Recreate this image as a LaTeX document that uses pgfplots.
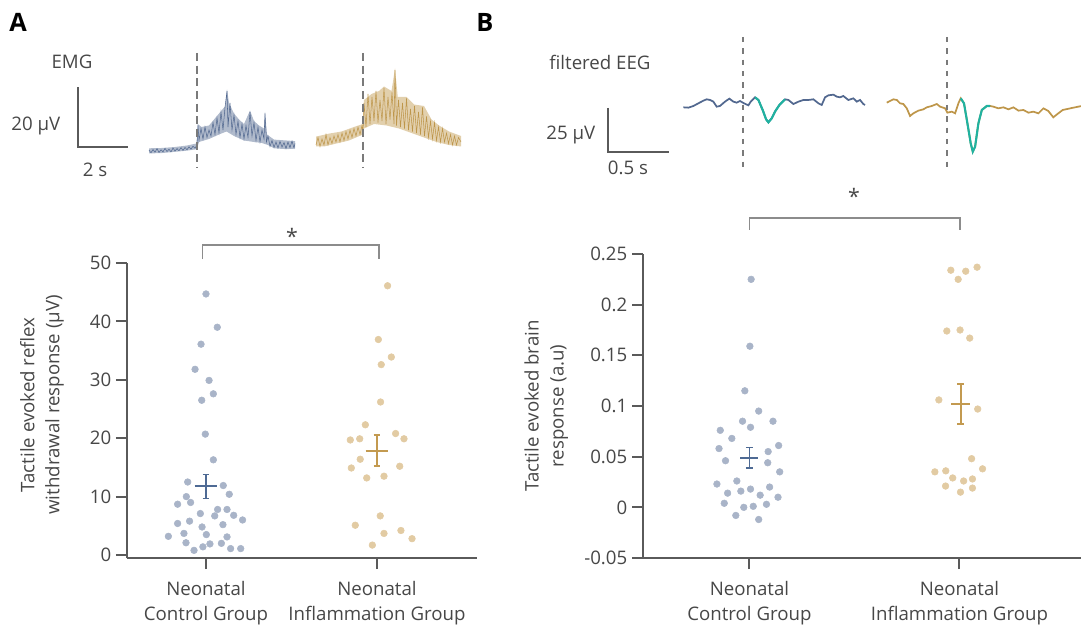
\documentclass[border=0pt]{standalone}
\usepackage{pgfplots}
\pgfplotsset{compat=1.18}
\usepackage{fontspec}
\setmainfont{Open Sans}
\definecolor{axgray}{HTML}{5A5A5A}
\definecolor{txtgray}{HTML}{474747}
\definecolor{dotA}{HTML}{A9B4C8}
\definecolor{dotB}{HTML}{E2CBA3}
\definecolor{meanA}{HTML}{4E6A94}
\definecolor{meanB}{HTML}{C39A50}
\definecolor{emgA}{HTML}{52688F}
\definecolor{emgB}{HTML}{BE964A}
\definecolor{teal}{HTML}{20B2A0}
\definecolor{brgray}{HTML}{8C8C8C}
\definecolor{dashgray}{HTML}{7A7A7A}
\newcommand{\fs}{\fontsize{14}{18.75}\selectfont}
\pgfplotsset{
  scat/.style={
    scale only axis, clip=false,
    axis x line*=bottom, axis y line*=left,
    axis line style={draw=axgray, line width=1.5pt, -},
    tick align=outside, major tick length=8.25pt,
    every tick/.style={draw=axgray, line width=1.5pt},
    tick label style={font=\fs, text=txtgray},
    label style={font=\fs, text=txtgray},
    xtick={0,1},
    xticklabels={{Neonatal\\Control Group},{Neonatal\\Inflammation Group}},
    xticklabel style={align=center, yshift=-6pt},
  },
  trace/.style={scale only axis, hide axis, clip=false},
  dotsA/.style={only marks, mark=*, mark size=2.5pt, color=dotA, mark options={draw=dotA, fill=dotA}},
  dotsB/.style={only marks, mark=*, mark size=2.5pt, color=dotB, mark options={draw=dotB, fill=dotB}},
}
\begin{document}
\begin{tikzpicture}[x=0.75pt,y=0.75pt]
\path[use as bounding box] (0,0) rectangle (1081,628);

% ---------------- Panel A traces (EMG) ----------------
\begin{axis}[trace, at={(30pt,336pt)}, anchor=south west, width=330pt, height=105pt,
  xmin=-4.36, xmax=13.24, ymin=-9.667, ymax=37]
\addplot[draw=none, fill=emgA, fill opacity=0.45] coordinates {
(0,0.9)(0.5,1.0)(1.0,1.3)(1.5,1.8)(1.9,2.5)(1.95,9)(2.1,8)(2.4,8.5)(2.7,11.5)(2.9,13.5)(3.05,15)
(3.12,20.5)(3.2,16)(3.4,12.5)(3.6,10.5)(3.8,9)(4.04,13.5)(4.2,10)(4.4,8.5)(4.6,7.5)(4.64,13)(4.72,5.5)
(5.0,3.8)(5.5,3.5)(5.84,3.3)(5.84,0.8)(5.5,0.6)(5.0,0.9)(4.76,2.0)(4.5,2.7)(4.2,3.0)(3.8,3.5)(3.4,5.0)
(3.1,6.5)(2.8,5.5)(2.4,4.0)(2.0,3.0)(1.92,0.6)(1.5,0.1)(1.0,-0.3)(0.5,-0.7)(0,-0.8)} -- cycle;
\addplot[emgA, line width=0.4pt] coordinates {
(0.00,0.3)(0.08,-0.6)(0.16,0.5)(0.24,-0.4)(0.32,0.8)(0.40,-0.5)(0.48,0.4)(0.56,-0.3)(0.64,0.9)(0.72,-0.2)
(0.80,0.6)(0.88,-0.3)(0.96,1.0)(1.04,0.0)(1.12,0.8)(1.20,0.1)(1.28,1.1)(1.36,0.2)(1.44,1.2)(1.52,0.4)
(1.60,1.4)(1.68,0.6)(1.76,1.6)(1.84,0.9)(1.92,2.0)(1.96,8.5)(2.00,3.5)(2.08,7.5)(2.16,4.0)(2.24,8.0)
(2.32,4.5)(2.40,7.0)(2.48,5.0)(2.56,9.5)(2.64,5.5)(2.72,11.0)(2.80,6.0)(2.88,13.0)(2.96,7.0)(3.04,14.5)
(3.12,20.0)(3.16,8.0)(3.24,16.0)(3.32,7.0)(3.40,12.0)(3.48,5.5)(3.56,10.0)(3.64,4.5)(3.72,9.0)(3.80,4.0)
(3.88,8.5)(3.96,4.5)(4.04,13.0)(4.12,5.0)(4.20,9.5)(4.28,3.5)(4.36,8.0)(4.44,3.0)(4.52,7.0)(4.60,4.0)
(4.64,12.5)(4.70,3.0)(4.76,5.0)(4.84,1.5)(4.92,3.5)(5.00,1.2)(5.08,3.0)(5.16,1.0)(5.24,3.2)(5.32,1.3)
(5.40,2.8)(5.48,0.8)(5.56,3.0)(5.64,1.1)(5.72,3.3)(5.80,1.0)(5.84,2.5)};
\addplot[draw=none, fill=emgB, fill opacity=0.45] coordinates {
(6.68,4.8)(7.2,5.8)(7.7,6.5)(8.2,8)(8.56,9)(8.6,17)(8.9,19)(9.2,20)(9.4,21.5)(9.7,20)(9.84,27.5)
(9.95,18)(10.3,18)(10.6,15.5)(11.0,15)(11.3,10.5)(11.6,8.5)(12.0,6.5)(12.48,5)
(12.48,1.5)(12.0,2.0)(11.5,3.0)(11.0,4.5)(10.5,6)(10.0,7.5)(9.5,8.5)(9.0,9)(8.6,7.5)(8.56,5.5)
(8.0,3.5)(7.5,2.5)(7.0,1.5)(6.68,1.5)} -- cycle;
\addplot[emgB, line width=0.4pt] coordinates {
(6.68,2.0)(6.76,4.5)(6.84,1.5)(6.92,4.0)(7.00,2.0)(7.08,5.5)(7.16,2.0)(7.24,4.5)(7.32,2.5)(7.40,5.0)
(7.48,3.0)(7.56,5.5)(7.64,3.0)(7.72,6.0)(7.80,3.5)(7.88,6.5)(7.96,4.0)(8.04,7.0)(8.12,4.5)(8.20,7.5)
(8.28,5.0)(8.36,8.0)(8.44,5.5)(8.52,8.5)(8.56,6.0)(8.60,16.0)(8.68,8.0)(8.76,19.0)(8.84,9.0)(8.92,18.0)
(9.00,10.0)(9.08,20.0)(9.16,9.5)(9.24,17.0)(9.32,10.0)(9.40,21.0)(9.48,9.0)(9.56,18.0)(9.64,10.5)(9.72,19.5)
(9.80,9.0)(9.84,27.0)(9.90,8.5)(9.98,17.0)(10.06,8.0)(10.14,16.0)(10.22,7.5)(10.30,17.5)(10.38,7.0)(10.46,14.0)
(10.54,6.5)(10.62,15.0)(10.70,6.0)(10.78,13.0)(10.86,5.5)(10.94,14.5)(11.02,5.0)(11.10,11.5)(11.18,4.5)(11.26,10.0)
(11.34,4.0)(11.42,9.5)(11.50,3.5)(11.58,8.0)(11.66,3.0)(11.74,7.5)(11.82,3.0)(11.90,6.0)(11.98,2.5)(12.06,5.5)
(12.14,2.0)(12.22,5.0)(12.30,2.0)(12.38,4.5)(12.48,3.0)};
\addplot[dashgray, line width=1.1pt, dash pattern=on 6pt off 3.5pt] coordinates {(1.92,32.7)(1.92,-5.67)};
\addplot[dashgray, line width=1.1pt, dash pattern=on 6pt off 3.5pt] coordinates {(8.56,32.7)(8.56,-5.67)};
\addplot[axgray, line width=1.5pt] coordinates {(-2.84,21.33)(-2.84,1.33)(-0.84,1.33)};
\end{axis}

% ---------------- Panel B traces (EEG) ----------------
\begin{axis}[trace, at={(405pt,328.5pt)}, anchor=south west, width=405.75pt, height=127.5pt,
  xmin=-1.664, xmax=2.770, ymin=-47.16, ymax=49.43]
\addplot[emgA, line width=1.3pt] coordinates {
(-0.489,-0.19)(-0.448,-0.38)(-0.407,0.57)(-0.366,2.08)(-0.325,3.60)(-0.298,4.36)(-0.270,3.98)(-0.243,3.03)
(-0.216,0.19)(-0.189,0.57)(-0.148,3.03)(-0.112,4.73)(-0.079,3.03)(-0.052,2.46)(-0.025,3.41)(0.008,2.08)
(0.044,0.95)(0.063,3.03)(0.098,5.49)(0.126,3.98)(0.161,-1.70)(0.189,-7.01)(0.208,-8.71)(0.235,-6.44)
(0.262,-2.65)(0.298,1.14)(0.344,4.36)(0.372,3.98)(0.413,1.70)(0.454,3.03)(0.495,3.98)(0.536,3.98)
(0.577,4.36)(0.618,2.08)(0.645,1.14)(0.672,5.49)(0.700,6.63)(0.741,7.01)(0.768,5.87)(0.795,5.49)
(0.822,6.25)(0.863,3.98)(0.904,4.92)(0.932,3.03)(0.959,3.98)(0.986,1.70)(1.000,1.14)};
\addplot[teal, line width=1.6pt] coordinates {
(0.098,5.49)(0.126,3.98)(0.161,-1.70)(0.189,-7.01)(0.208,-8.71)(0.235,-6.44)
(0.262,-2.65)(0.298,1.14)(0.344,4.36)};
\addplot[emgB, line width=1.3pt] coordinates {
(1.178,2.46)(1.205,3.41)(1.232,4.36)(1.260,3.98)(1.287,2.08)(1.314,1.70)(1.342,-0.76)(1.369,-5.11)
(1.396,-3.60)(1.437,-2.08)(1.478,-1.33)(1.506,-0.19)(1.547,0.57)(1.588,1.70)(1.615,0.19)(1.656,-0.76)
(1.675,-3.22)(1.711,-2.65)(1.738,-3.60)(1.765,2.08)(1.784,4.92)(1.811,2.08)(1.839,-9.28)(1.866,-20.64)
(1.883,-25.38)(1.902,-22.54)(1.929,-9.28)(1.957,-1.70)(1.998,0.57)(2.025,0.57)(2.052,0.19)(2.093,-0.76)
(2.134,-0.19)(2.175,-1.33)(2.216,-0.19)(2.257,-2.08)(2.298,-1.70)(2.339,-3.22)(2.380,-2.65)(2.421,-3.60)
(2.462,-0.76)(2.502,-2.27)(2.543,-5.87)(2.584,-3.60)(2.620,-1.70)(2.700,-0.50)(2.770,0.50)};
\addplot[teal, line width=1.6pt] coordinates {
(1.784,4.92)(1.811,2.08)(1.839,-9.28)(1.866,-20.64)(1.883,-25.38)(1.902,-22.54)(1.929,-9.28)
(1.957,-1.70)(1.998,0.57)(2.025,0.57)};
\addplot[dashgray, line width=0.9pt, dash pattern=on 4pt off 4.5pt] coordinates {(0,39.8)(0,-34.1)};
\addplot[dashgray, line width=0.9pt, dash pattern=on 4pt off 4.5pt] coordinates {(1.672,39.8)(1.672,-34.1)};
\addplot[axgray, line width=1.5pt] coordinates {(-1.107,-0.57)(-1.107,-25.57)(-0.607,-25.57)};
\end{axis}

% ---------------- Panel A scatter ----------------
\begin{axis}[scat, at={(95.25pt,52.5pt)}, anchor=south west, width=262.5pt, height=221.25pt,
  xmin=-0.462, xmax=1.585, ymin=-0.51, ymax=50,
  ytick={0,10,20,30,40,50}, yticklabels={0,10,20,30,40,50},
  ylabel={Tactile evoked reflex\\withdrawal response (µV)},
  ylabel style={align=center, at={(rel axis cs:-0.243,0.519)}, anchor=center}]
\addplot[dotsA] table {
x y
0.000 44.7
0.066 39.0
-0.029 36.1
-0.064 31.8
0.018 29.9
0.043 27.6
-0.025 26.5
-0.004 20.7
0.043 16.3
-0.107 12.5
0.101 11.9
0.136 10.4
-0.115 10.0
-0.166 8.7
-0.090 9.0
0.068 7.8
0.123 7.8
-0.033 7.1
0.051 6.7
0.162 6.8
0.214 6.0
-0.096 5.8
-0.166 5.4
0.099 5.2
-0.023 4.8
-0.129 3.7
0.002 3.5
-0.220 3.2
0.123 3.1
-0.117 2.1
0.023 1.9
0.090 2.0
-0.018 1.4
-0.070 0.8
0.144 1.1
0.203 1.1
};
\addplot[dotsB] table {
x y
1.062 46.1
1.008 36.9
1.084 33.9
1.025 32.6
1.021 26.2
0.932 22.3
0.844 19.7
0.899 19.9
1.109 20.8
1.158 19.9
0.902 16.4
0.850 14.9
1.133 15.2
0.940 13.2
1.041 13.5
1.019 6.7
0.873 5.1
1.041 3.7
1.140 4.2
1.205 2.8
0.973 1.7
};
\addplot[meanA, line width=1.3pt] coordinates {(-0.067,11.8)(0.067,11.8)};
\addplot[meanA, line width=1.3pt] coordinates {(0,9.7)(0,13.8)};
\addplot[meanA, line width=1.3pt] coordinates {(-0.02,9.7)(0.02,9.7)};
\addplot[meanA, line width=1.3pt] coordinates {(-0.02,13.8)(0.02,13.8)};
\addplot[meanB, line width=1.3pt] coordinates {(0.933,17.8)(1.067,17.8)};
\addplot[meanB, line width=1.3pt] coordinates {(1,15.2)(1,20.5)};
\addplot[meanB, line width=1.3pt] coordinates {(0.98,15.2)(1.02,15.2)};
\addplot[meanB, line width=1.3pt] coordinates {(0.98,20.5)(1.02,20.5)};
\addplot[brgray, line width=1.3pt] coordinates {(-0.02,50.68)(-0.02,53.08)(1.012,53.08)(1.012,50.68)};
\node[anchor=base, font=\fontsize{16}{16}\selectfont, text=txtgray] at (axis cs:0.503,53.25) {*};
\end{axis}

% ---------------- Panel B scatter ----------------
\begin{axis}[scat, at={(482.25pt,52.5pt)}, anchor=south west, width=328.5pt, height=228pt,
  xmin=-0.507, xmax=1.579, ymin=-0.05, ymax=0.25,
  ytick={-0.05,0,0.05,0.1,0.15,0.2,0.25},
  yticklabels={-0.05,0,0.05,0.1,0.15,0.2,0.25},
  ylabel={Tactile evoked brain\\response (a.u)},
  ylabel style={align=center, at={(rel axis cs:-0.221,0.5)}, anchor=center}]
\addplot[dotsA] table {
x y
0.008 0.225
0.002 0.159
-0.022 0.115
0.044 0.095
-0.033 0.085
0.112 0.085
0.005 0.079
-0.139 0.076
-0.084 0.068
0.139 0.061
-0.145 0.058
0.089 0.055
-0.114 0.046
0.087 0.044
0.144 0.035
-0.155 0.023
-0.060 0.026
0.096 0.020
-0.104 0.014
-0.041 0.016
0.005 0.018
0.051 0.012
0.136 0.010
-0.120 0.004
-0.027 0.000
0.018 0.001
0.081 0.003
-0.065 -0.008
0.044 -0.012
};
\addplot[dotsB] table {
x y
0.959 0.234
1.030 0.233
1.084 0.237
0.994 0.225
0.940 0.174
1.003 0.175
1.049 0.167
0.902 0.106
1.087 0.097
1.058 0.048
0.883 0.035
0.935 0.036
1.110 0.038
0.968 0.029
1.020 0.026
1.062 0.028
0.934 0.021
1.062 0.019
1.005 0.015
};
\addplot[meanA, line width=1.3pt] coordinates {(-0.043,0.049)(0.043,0.049)};
\addplot[meanA, line width=1.3pt] coordinates {(0,0.039)(0,0.059)};
\addplot[meanA, line width=1.3pt] coordinates {(-0.017,0.039)(0.017,0.039)};
\addplot[meanA, line width=1.3pt] coordinates {(-0.017,0.059)(0.017,0.059)};
\addplot[meanB, line width=1.3pt] coordinates {(0.962,0.102)(1.052,0.102)};
\addplot[meanB, line width=1.3pt] coordinates {(1.007,0.082)(1.007,0.122)};
\addplot[meanB, line width=1.3pt] coordinates {(0.99,0.082)(1.024,0.082)};
\addplot[meanB, line width=1.3pt] coordinates {(0.99,0.122)(1.024,0.122)};
\addplot[brgray, line width=1.3pt] coordinates {(0,0.2737)(0,0.2856)(1.002,0.2856)(1.002,0.2737)};
\node[anchor=base, font=\fontsize{16}{16}\selectfont, text=txtgray] at (axis cs:0.498,0.2984) {*};
\end{axis}

% ---------------- text ----------------
\node[font=\fontsize{19}{19}\selectfont\bfseries, text=black] at (18,606) {A};
\node[font=\fontsize{19}{19}\selectfont\bfseries, text=black] at (485,606) {B};
\node[font=\fs, text=txtgray] at (72,566) {EMG};
\node[font=\fs, text=txtgray, anchor=east] at (65,502) {20 µV};
\node[font=\fs, text=txtgray] at (95,458) {2 s};
\node[font=\fs, text=txtgray] at (600,566) {filtered EEG};
\node[font=\fs, text=txtgray, anchor=east] at (600,493) {25 µV};
\node[font=\fs, text=txtgray] at (628,460) {0.5 s};
\end{tikzpicture}
\end{document}
